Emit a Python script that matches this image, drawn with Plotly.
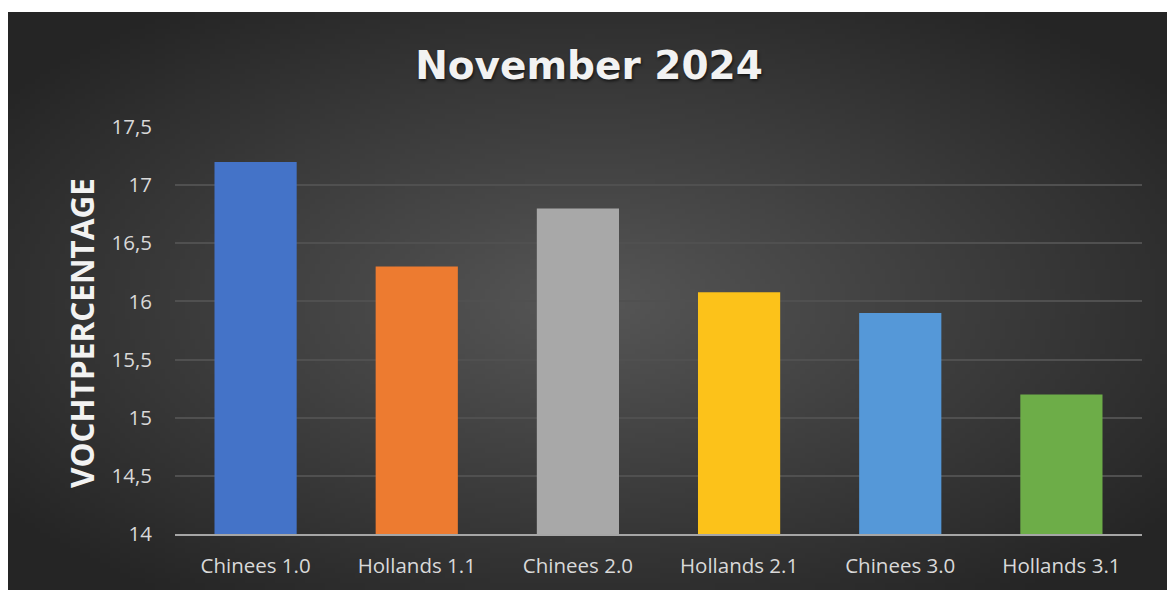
import base64, struct, zlib
import plotly.graph_objects as go

# ---- data ----
categories = ["Chinees 1.0", "Hollands 1.1", "Chinees 2.0", "Hollands 2.1", "Chinees 3.0", "Hollands 3.1"]
values = [17.2, 16.3, 16.8, 16.08, 15.9, 15.2]
bar_colors = ["#4473C8", "#ED7B30", "#A8A8A8", "#FCC21A", "#5598D8", "#6DAD48"]
y_tickvals = [14, 14.5, 15, 15.5, 16, 16.5, 17, 17.5]
y_ticktext = ["14", "14,5", "15", "15,5", "16", "16,5", "17", "17,5"]

# ---- radial gradient background as PNG ----
def make_png(w, h, fn):
    raw = bytearray()
    for j in range(h):
        raw.append(0)
        for i in range(w):
            raw.extend(fn(i, j))
    def chunk(t, d):
        c = struct.pack(">I", len(d)) + t + d
        return c + struct.pack(">I", zlib.crc32(t + d) & 0xffffffff)
    png = b"\x89PNG\r\n\x1a\n"
    png += chunk(b"IHDR", struct.pack(">IIBBBBB", w, h, 8, 2, 0, 0, 0))
    png += chunk(b"IDAT", zlib.compress(bytes(raw), 9))
    png += chunk(b"IEND", b"")
    return "data:image/png;base64," + base64.b64encode(png).decode()

GW, GH = 232, 116
def grad(i, j):
    dx = (i - GW * 0.5) / (GW * 0.5)
    dy = (j - GH * 0.5) / (GH * 0.5)
    t = min(1.0, (dx * dx + dy * dy) ** 0.5 / 1.25)
    c0, c1 = 0x56, 0x25
    v = int(round(c0 + (c1 - c0) * t))
    return (v, v, v)

bg = make_png(GW, GH, grad)

W, H = 1167, 590
ML, MR, MT, MB = 175, 25, 127, 56
PW, PH = W - ML - MR, H - MT - MB

fig = go.Figure(go.Bar(
    x=categories, y=values,
    marker=dict(color=bar_colors, line=dict(width=0)),
    width=0.51,
))

fig.add_layout_image(dict(
    source=bg, xref="paper", yref="paper",
    x=(8 - ML) / PW, y=(H - MB - 12) / PH,
    sizex=(W - 8) / PW, sizey=(H - 12) / PH,
    xanchor="left", yanchor="top", sizing="stretch", layer="below",
))

font_family = "Open Sans, sans-serif"
fig.update_layout(
    width=W, height=H,
    margin=dict(l=ML, r=MR, t=MT, b=MB),
    paper_bgcolor="white", plot_bgcolor="rgba(0,0,0,0)",
    showlegend=False,
    title=dict(
        text="<b>November 2024</b>",
        x=(589 - ML) / PW, xref="paper", xanchor="center",
        y=1 - 65 / H, yref="container", yanchor="middle",
        font=dict(family="DejaVu Sans, sans-serif", size=39, color="#f2f2f2",
                  shadow="1px 2px 3px rgba(0,0,0,0.6)"),
    ),
    xaxis=dict(
        showgrid=False, showline=True, linecolor="#a6a6a6", linewidth=2,
        tickfont=dict(family=font_family, size=20.5, color="#d9d9d9"),
        ticklabelstandoff=12, zeroline=False,
    ),
    yaxis=dict(
        range=[14, 17.5], tickvals=y_tickvals, ticktext=y_ticktext,
        showgrid=True, gridcolor="#505050", gridwidth=1.5,
        zeroline=False, showline=False,
        tickfont=dict(family=font_family, size=20.5, color="#d9d9d9"),
        ticklabelstandoff=22,
    ),
    annotations=[dict(
        text="<b>VOCHTPERCENTAGE</b>", xref="paper", yref="paper",
        x=(81 - ML) / PW, y=(534 - 333) / PH, textangle=-90,
        showarrow=False, xanchor="center", yanchor="middle",
        font=dict(family=font_family, size=31.5, color="#f2f2f2"),
    )],
)

fig.write_html("out.html")
